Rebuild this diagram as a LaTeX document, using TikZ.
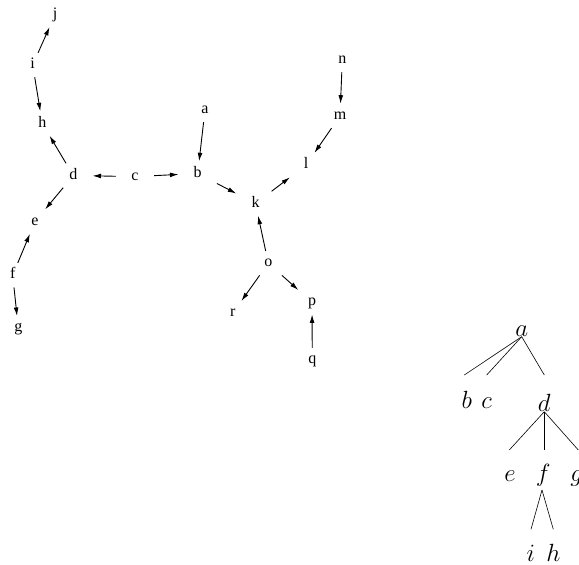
\documentclass[tikz,border=0pt]{standalone}
\usepackage{fontspec}
\setmainfont{Liberation Serif}
\usetikzlibrary{arrows.meta}
\begin{document}
\begin{tikzpicture}[x=1pt,y=-1pt,
  lbl/.style={font=\fontsize{16}{16}\selectfont, inner sep=0pt, rectangle,
    minimum width=38pt, minimum height=24pt, text height=10.9pt, text depth=3.5pt, anchor=base},
  arr/.style={line width=0.9pt, -{Latex[length=8.5pt,width=4.8pt]}},
  tl/.style={font=\fontsize{30}{30}\selectfont, inner sep=0pt, anchor=base},
  tline/.style={line width=0.6pt}]
\useasboundingbox (0,0) rectangle (579,565);
% left graph
\node[lbl] (j) at (55,18.5) {j};
\node[lbl] (i) at (32.7,68.6) {i};
\node[lbl] (h) at (42.3,127.2) {h};
\node[lbl] (d) at (73.3,179.2) {d};
\node[lbl] (c) at (135,180.3) {c};
\node[lbl] (b) at (197.7,177.2) {b};
\node[lbl] (a) at (205,113.6) {a};
\node[lbl] (k) at (255.5,207.2) {k};
\node[lbl] (l) at (306,168.8) {l};
\node[lbl] (m) at (340,119.6) {m};
\node[lbl] (n) at (342.3,63.6) {n};
\node[lbl] (o) at (268.3,266.9) {o};
\node[lbl] (p) at (312,305.9) {p};
\node[lbl] (q) at (312.3,363.7) {q};
\node[lbl] (r) at (232.7,316.9) {r};
\node[lbl] (e) at (35,225.3) {e};
\node[lbl] (f) at (12.7,278.8) {f};
\node[lbl] (g) at (18.3,331.9) {g};
\draw[arr] (i) -- (j);
\draw[arr] (i) -- (h);
\draw[arr] (d) -- (h);
\draw[arr] (c) -- (d);
\draw[arr] (c) -- (b);
\draw[arr] (a) -- (b);
\draw[arr] (b) -- (k);
\draw[arr] (k) -- (l);
\draw[arr] (m) -- (l);
\draw[arr] (n) -- (m);
\draw[arr] (o) -- (k);
\draw[arr] (o) -- (r);
\draw[arr] (o) -- (p);
\draw[arr] (q) -- (p);
\draw[arr] (d) -- (e);
\draw[arr] (f) -- (e);
\draw[arr] (f) -- (g);
% tree
\node[tl] (ta) at (521.7,336.7) {$a$};
\node[tl] (tb) at (466.7,408) {$b$};
\node[tl] (tc) at (486.7,408) {$c$};
\node[tl] (td) at (544.3,411.7) {$d$};
\node[tl] (te) at (510,481.7) {$e$};
\node[tl] (tf) at (543.3,481.7) {$f$};
\node[tl] (tg) at (576.7,481.7) {$g$};
\node[tl] (ti) at (530.7,561.5) {$i$};
\node[tl] (th) at (553.3,561.5) {$h$};
\coordinate (ab) at (464.3,375);
\coordinate (ac) at (486.7,375);
\coordinate (ad) at (544.3,375);
\coordinate (de) at (509.3,450);
\coordinate (df) at (544.3,450);
\coordinate (dg) at (578.3,450);
\coordinate (fo) at (542,490);
\coordinate (fi) at (531,529.3);
\coordinate (fh) at (553.3,529.3);
\draw[tline] (ta.base) -- (ab);
\draw[tline] (ta.base) -- (ac);
\draw[tline] (ta.base) -- (ad);
\draw[tline] (td.base) -- (de);
\draw[tline] (td.base) -- (df);
\draw[tline] (td.base) -- (dg);
\draw[tline] (fo) -- (fi);
\draw[tline] (fo) -- (fh);
\end{tikzpicture}
\end{document}
